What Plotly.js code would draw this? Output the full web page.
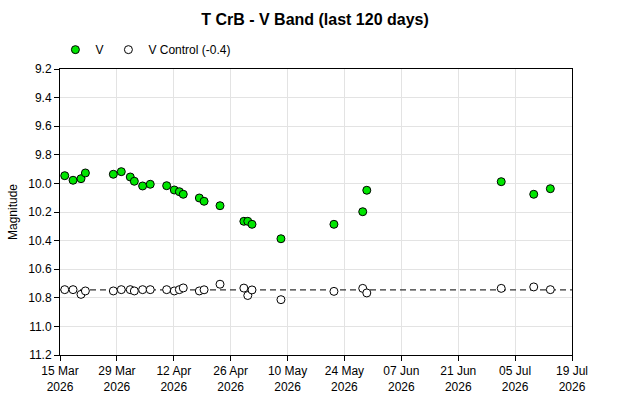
<!DOCTYPE html>
<html>
<head>
<meta charset="utf-8">
<script src="https://cdn.plot.ly/plotly-3.0.1.min.js"></script>
<style>html,body{margin:0;padding:0;background:#fff;}#chart{width:630px;height:405px;}</style>
</head>
<body>
<div id="chart"></div>
<script>
// Observation dates (V and control measured together)
var obsDates = [
  "2026-03-16 04:00", "2026-03-18 05:00", "2026-03-20 04:00", "2026-03-21 06:00",
  "2026-03-28 03:00", "2026-03-30 02:00", "2026-04-01 07:00", "2026-04-02 07:00",
  "2026-04-04 08:00", "2026-04-06 05:00", "2026-04-10 06:00", "2026-04-12 03:00",
  "2026-04-13 09:00", "2026-04-14 08:00", "2026-04-18 07:00", "2026-04-19 11:00",
  "2026-04-23 09:00", "2026-04-29 06:00", "2026-04-30 05:00", "2026-05-01 06:00",
  "2026-05-08 09:00", "2026-05-21 10:00", "2026-05-28 12:00", "2026-05-29 12:00",
  "2026-07-01 14:00", "2026-07-09 14:00", "2026-07-13 16:00"
];
// V magnitudes
var vMag = [
  9.946, 9.978, 9.967, 9.927,
  9.936, 9.918, 9.955, 9.985,
  10.018, 10.006, 10.016, 10.046,
  10.058, 10.076, 10.102, 10.125,
  10.156, 10.265, 10.265, 10.286,
  10.387, 10.286, 10.198, 10.048,
  9.988, 10.076, 10.037
];
// Control star magnitudes (offset -0.4 applied)
var ctrlMag = [
  10.743, 10.743, 10.776, 10.752,
  10.752, 10.743, 10.743, 10.752,
  10.743, 10.743, 10.743, 10.752,
  10.743, 10.731, 10.752, 10.744,
  10.705, 10.732, 10.784, 10.745,
  10.813, 10.755, 10.734, 10.766,
  10.734, 10.724, 10.743
];
// Control reference level (dashed line)
var ctrlLevel = 10.745;
var xRange = ["2026-03-15", "2026-07-19"];
var yTicks = [9.2, 9.4, 9.6, 9.8, 10.0, 10.2, 10.4, 10.6, 10.8, 11.0, 11.2];

var traces = [
  {
    x: xRange, y: [ctrlLevel, ctrlLevel], mode: "lines", type: "scatter",
    line: {color: "#333333", width: 1.2, dash: "6px,4px"},
    showlegend: false, hoverinfo: "skip"
  },
  {
    x: obsDates, y: vMag, mode: "markers", type: "scatter", name: "V",
    marker: {color: "#00e600", size: 8, line: {color: "#000000", width: 1}}
  },
  {
    x: obsDates, y: ctrlMag, mode: "markers", type: "scatter", name: "V Control (-0.4)",
    marker: {color: "#ffffff", size: 8, line: {color: "#000000", width: 1}}
  }
];

var layout = {
  width: 630, height: 405,
  margin: {l: 60, r: 58, t: 69, b: 50},
  paper_bgcolor: "#ffffff", plot_bgcolor: "#ffffff",
  font: {family: "Liberation Sans, Arial, sans-serif", size: 12, color: "#000000"},
  title: {
    text: "<b>T CrB - V Band (last 120 days)</b>",
    font: {size: 16, family: "Liberation Sans, Arial, sans-serif", color: "#000000"},
    x: 0.5, xanchor: "center", y: 0.951, yanchor: "middle"
  },
  showlegend: true,
  legend: {
    orientation: "h", x: -0.009, xanchor: "left", y: 1.017, yanchor: "bottom",
    font: {size: 12}, bgcolor: "rgba(0,0,0,0)"
  },
  xaxis: {
    type: "date", range: xRange,
    tick0: "2026-03-15", dtick: 14 * 86400000,
    tickformat: "%d %b<br>%Y",
    ticks: "outside", ticklen: 5, tickcolor: "#000000",
    showline: true, linecolor: "#000000", linewidth: 1, mirror: true,
    showgrid: true, gridcolor: "#e3e3e3", gridwidth: 1,
    zeroline: false, tickfont: {size: 12}
  },
  yaxis: {
    range: [11.2, 9.2],
    tickmode: "array", tickvals: yTicks, tickformat: ".1f",
    ticks: "outside", ticklen: 5, tickcolor: "#000000",
    showline: true, linecolor: "#000000", linewidth: 1, mirror: true,
    showgrid: true, gridcolor: "#e3e3e3", gridwidth: 1,
    zeroline: false, tickfont: {size: 12},
    title: {text: "Magnitude", font: {size: 12}, standoff: 8}
  }
};

Plotly.newPlot("chart", traces, layout, {displayModeBar: false, staticPlot: true});
</script>
</body>
</html>
